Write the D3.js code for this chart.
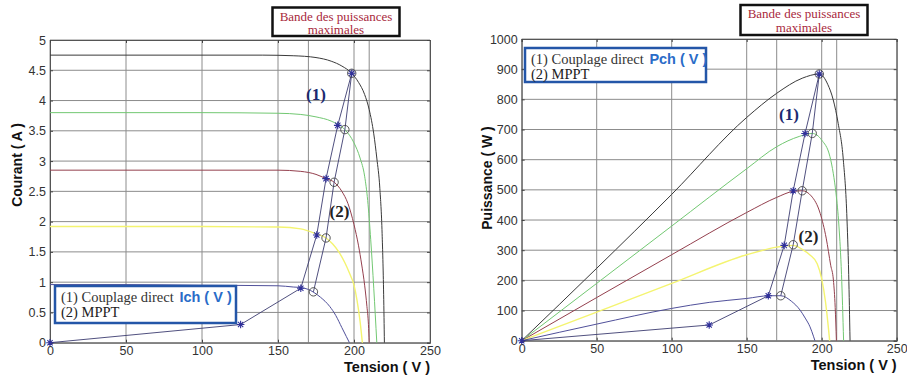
<!DOCTYPE html>
<html><head><meta charset="utf-8">
<script src="https://cdn.jsdelivr.net/npm/d3@7"></script>
<style>body{margin:0;background:#fff}svg{display:block}</style>
</head><body><svg id="c" width="907" height="376"></svg>
<script>
// ---------- DATA ----------
const xTicks = [0, 50, 100, 150, 200, 250];
const iTicks = [0, 0.5, 1, 1.5, 2, 2.5, 3, 3.5, 4, 4.5, 5];
const pTicks = [0, 100, 200, 300, 400, 500, 600, 700, 800, 900, 1000];
const bandEdges = [170, 210];

// I-V curves (Tension V, Courant A)
const ivBlackV  = [0, 50, 100, 140, 160, 175, 185, 192, 198.5, 203, 207, 210, 213, 215, 217, 218.5, 219.5, 220];
const ivBlackI  = [4.75, 4.75, 4.75, 4.75, 4.74, 4.71, 4.65, 4.57, 4.45, 4.3, 4.1, 3.85, 3.45, 3.05, 2.55, 1.8, 0.8, 0];
const ivGreenV  = [0, 50, 100, 150, 165, 175, 185, 194, 200, 204, 207, 209, 211, 213, 215];
const ivGreenI  = [3.8, 3.8, 3.8, 3.79, 3.77, 3.73, 3.66, 3.52, 3.3, 3.05, 2.75, 2.35, 1.7, 0.9, 0];
const ivRedV    = [0, 50, 100, 150, 165, 175, 181.6, 187, 192, 196, 200, 203, 205, 207, 208.5, 209.5, 210];
const ivRedI    = [2.85, 2.85, 2.85, 2.85, 2.83, 2.78, 2.71, 2.65, 2.5, 2.3, 1.95, 1.6, 1.3, 0.95, 0.6, 0.3, 0];
const ivYellowV = [0, 50, 100, 150, 165, 175, 181.6, 186, 190, 194, 197, 200, 202, 204, 205.5];
const ivYellowI = [1.92, 1.92, 1.92, 1.91, 1.88, 1.8, 1.73, 1.63, 1.5, 1.32, 1.15, 0.95, 0.7, 0.35, 0];
const ivBlueV   = [0, 50, 100, 150, 160, 165, 170, 173, 178, 184, 188, 192, 195, 197];
const ivBlueI   = [0.96, 0.96, 0.95, 0.94, 0.92, 0.91, 0.88, 0.84, 0.75, 0.6, 0.45, 0.25, 0.1, 0];

// P-V curves (Tension V, Puissance W)
const pvBlackV  = [0, 50, 100, 150, 170, 187, 198.4, 204, 207.7, 211, 214.4, 216.7, 218, 218.9];
const pvBlackP  = [0, 240, 485, 740, 820, 870, 884, 850, 798, 720, 600, 422, 220, 0];
const pvGreenV  = [0, 50, 100, 150, 170, 185, 193.7, 200, 205.5, 207.7, 209.5, 211.5, 213.2, 214.6];
const pvGreenP  = [0, 190, 380, 570, 643, 677, 687, 665, 610, 555, 490, 380, 220, 0];
const pvRedV    = [0, 50, 100, 150, 170, 181, 187, 193, 199, 203, 206, 207.8, 209, 209.8];
const pvRedP    = [0, 143, 285, 425, 475, 495, 497, 480, 422, 340, 250, 201, 110, 0];
const pvYellowV = [0, 50, 100, 150, 170, 181, 187, 192, 197, 200, 202.5, 204.4, 205.3];
const pvYellowP = [0, 95, 190, 285, 310, 316, 303, 285, 255, 205, 130, 46, 0];
const pvBlueV   = [0, 50, 100, 125, 150, 165, 172.7, 180, 185.5, 189, 192.2, 194.5, 195.5];
const pvBlueP   = [0, 55, 107, 127, 140, 149, 149, 130, 102, 75, 46, 15, 0];

// (1) Couplage direct points and (2) MPPT points
const directIV_V = [0, 125.4, 165, 175.5, 181.6, 189.3, 198.5];
const directIV_I = [0, 0.3, 0.9, 1.78, 2.71, 3.59, 4.45];
const mpptIV_V   = [173.3, 181.6, 186.9, 194, 198.5];
const mpptIV_I   = [0.84, 1.73, 2.65, 3.52, 4.45];
const directPV_V = [0, 125, 164.4, 175, 181, 188.9, 198.4];
const directPV_P = [0, 52, 149, 316, 497, 687, 884];
const mpptPV_V   = [172.7, 181, 187, 193.7, 198.4];
const mpptPV_P   = [149, 318, 497, 687, 884];

const curveColors = ["#3a3a3a", "#72c872", "#94404e", "#f4f470", "#50509a"];

// ---------- DRAW ----------
const svg = d3.select("#c");
const zip = (a, b) => a.map((v, i) => [v, b[i]]);

function panel(o) {
  const x = d3.scaleLinear().domain([0, 250]).range([o.x0, o.x1]);
  const y = d3.scaleLinear().domain(o.yDomain).range([o.y0, o.y1]);
  const g = svg.append("g");
  // grid
  g.selectAll(".gx").data(xTicks.concat(bandEdges)).join("line")
    .attr("x1", d => x(d)).attr("x2", d => x(d)).attr("y1", o.y0).attr("y2", o.y1)
    .attr("stroke", "#8c8c8c").attr("stroke-width", 1);
  g.selectAll(".gy").data(o.yTicks).join("line")
    .attr("x1", o.x0).attr("x2", o.x1).attr("y1", d => y(d)).attr("y2", d => y(d))
    .attr("stroke", "#8c8c8c").attr("stroke-width", 1);
  // axes with inward ticks (box style)
  g.append("g").attr("transform", `translate(0,${o.y0})`)
    .call(d3.axisBottom(x).tickValues(xTicks).tickSize(-3).tickPadding(3).tickFormat(d3.format("d")));
  g.append("g").attr("transform", `translate(${o.x0},0)`)
    .call(d3.axisLeft(y).tickValues(o.yTicks).tickSize(-3).tickPadding(4).tickFormat(o.fmt));
  g.append("g").attr("transform", `translate(0,${o.y1})`)
    .call(d3.axisTop(x).tickValues(xTicks).tickSize(-3).tickFormat(""));
  g.append("g").attr("transform", `translate(${o.x1},0)`)
    .call(d3.axisRight(y).tickValues(o.yTicks).tickSize(-3).tickFormat(""));
  g.selectAll(".domain").attr("stroke", "#555");
  g.selectAll(".tick line").attr("stroke", "#444");
  g.selectAll(".tick text").attr("font-family", "Liberation Sans, Arial, sans-serif")
    .attr("font-size", 12.5).attr("fill", "#333");
  // curves
  const line = d3.line().x(d => x(d[0])).y(d => y(d[1])).curve(d3.curveMonotoneX);
  o.curves.forEach((c, i) => {
    g.append("path").attr("d", line(c)).attr("fill", "none")
      .attr("stroke", curveColors[i]).attr("stroke-width", i === 3 ? 1.4 : 1);
  });
  // connection lines
  const lin = d3.line().x(d => x(d[0])).y(d => y(d[1]));
  g.append("path").attr("d", lin(o.direct)).attr("fill", "none").attr("stroke", "#3c3c70").attr("stroke-width", 0.9);
  g.append("path").attr("d", lin(o.mppt)).attr("fill", "none").attr("stroke", "#3c3c70").attr("stroke-width", 0.9);
  // markers
  g.selectAll(".circ").data(o.mppt).join("circle")
    .attr("cx", d => x(d[0])).attr("cy", d => y(d[1])).attr("r", 4.2)
    .attr("fill", "none").attr("stroke", "#444").attr("stroke-width", 0.9);
  const s = 3.8;
  g.selectAll(".star").data(o.direct).join("path")
    .attr("transform", d => `translate(${x(d[0])},${y(d[1])})`)
    .attr("d", `M${-s},0H${s}M0,${-s}V${s}M${-s*0.7},${-s*0.7}L${s*0.7},${s*0.7}M${-s*0.7},${s*0.7}L${s*0.7},${-s*0.7}`)
    .attr("stroke", "#30309a").attr("stroke-width", 1.1);
  // axis labels
  svg.append("text").attr("x", o.x1).attr("y", o.y0 + 29).attr("text-anchor", "end")
    .attr("font-family", "Liberation Sans, Arial, sans-serif").attr("font-weight", "bold")
    .attr("font-size", 14.5).attr("fill", "#111").text("Tension ( V )");
  svg.append("text").attr("transform", `translate(${o.ylabX},${o.ylabY}) rotate(-90)`)
    .attr("text-anchor", "middle")
    .attr("font-family", "Liberation Sans, Arial, sans-serif").attr("font-weight", "bold")
    .attr("font-size", 14).attr("fill", "#111").text(o.ylab);
  // title box
  const bx = o.box;
  svg.append("rect").attr("x", bx[0]).attr("y", bx[1]).attr("width", bx[2]).attr("height", bx[3])
    .attr("fill", "#fff").attr("stroke", "#111").attr("stroke-width", 2.5);
  [["Bande des puissances", bx[1] + 13], ["maximales", bx[1] + 26.5]].forEach(t => {
    svg.append("text").attr("x", bx[0] + bx[2] / 2).attr("y", t[1]).attr("text-anchor", "middle")
      .attr("font-family", "Liberation Serif, Times New Roman, serif").attr("font-size", 13)
      .attr("fill", "#a8283c").text(t[0]);
  });
  // legend box
  const lb = o.leg;
  svg.append("rect").attr("x", lb[0]).attr("y", lb[1]).attr("width", lb[2]).attr("height", lb[3])
    .attr("fill", "#fff").attr("stroke", "#2456a8").attr("stroke-width", 2.5);
  const t1 = svg.append("text").attr("x", lb[0] + 6).attr("y", lb[1] + 16)
    .attr("font-family", "Liberation Serif, Times New Roman, serif").attr("font-size", 14.5).attr("fill", "#333");
  t1.append("tspan").text("(1) Couplage direct ");
  t1.append("tspan").attr("font-family", "Liberation Sans, Arial, sans-serif").attr("font-weight", "bold")
    .attr("fill", "#2a6cc8").attr("font-size", 14.5).attr("dx", 2).text(o.legVar);
  svg.append("text").attr("x", lb[0] + 6).attr("y", lb[1] + 31)
    .attr("font-family", "Liberation Serif, Times New Roman, serif").attr("font-size", 14.5).attr("fill", "#222")
    .text("(2) MPPT");
  // (1) (2) labels
  svg.append("text").attr("x", o.lab1[0]).attr("y", o.lab1[1]).attr("text-anchor", "middle")
    .attr("font-family", "Liberation Serif, Times New Roman, serif").attr("font-weight", "bold")
    .attr("font-size", 17).attr("fill", "#1c2a70").text("(1)");
  svg.append("text").attr("x", o.lab2[0]).attr("y", o.lab2[1]).attr("text-anchor", "middle")
    .attr("font-family", "Liberation Serif, Times New Roman, serif").attr("font-weight", "bold")
    .attr("font-size", 17).attr("fill", "#222").text("(2)");
}

panel({
  x0: 50, x1: 430, y0: 342.7, y1: 40, yDomain: [0, 5], yTicks: iTicks,
  fmt: d => d3.format("~g")(d),
  curves: [zip(ivBlackV, ivBlackI), zip(ivGreenV, ivGreenI), zip(ivRedV, ivRedI), zip(ivYellowV, ivYellowI), zip(ivBlueV, ivBlueI)],
  direct: zip(directIV_V, directIV_I), mppt: zip(mpptIV_V, mpptIV_I),
  ylab: "Courant ( A )", ylabX: 22, ylabY: 165,
  box: [272.5, 7.5, 127, 28.5], leg: [55, 286, 181, 37], legVar: "Ich ( V )",
  lab1: [316, 100], lab2: [339.5, 217]
});
panel({
  x0: 521.7, x1: 896.7, y0: 340.7, y1: 39, yDomain: [0, 1000], yTicks: pTicks,
  fmt: d3.format("d"),
  curves: [zip(pvBlackV, pvBlackP), zip(pvGreenV, pvGreenP), zip(pvRedV, pvRedP), zip(pvYellowV, pvYellowP), zip(pvBlueV, pvBlueP)],
  direct: zip(directPV_V, directPV_P), mppt: zip(mpptPV_V, mpptPV_P),
  ylab: "Puissance ( W )", ylabX: 492, ylabY: 178,
  box: [740.5, 5, 127, 30], leg: [525, 48, 181, 34], legVar: "Pch ( V )",
  lab1: [789, 120], lab2: [808.5, 242]
});
</script></body></html>
